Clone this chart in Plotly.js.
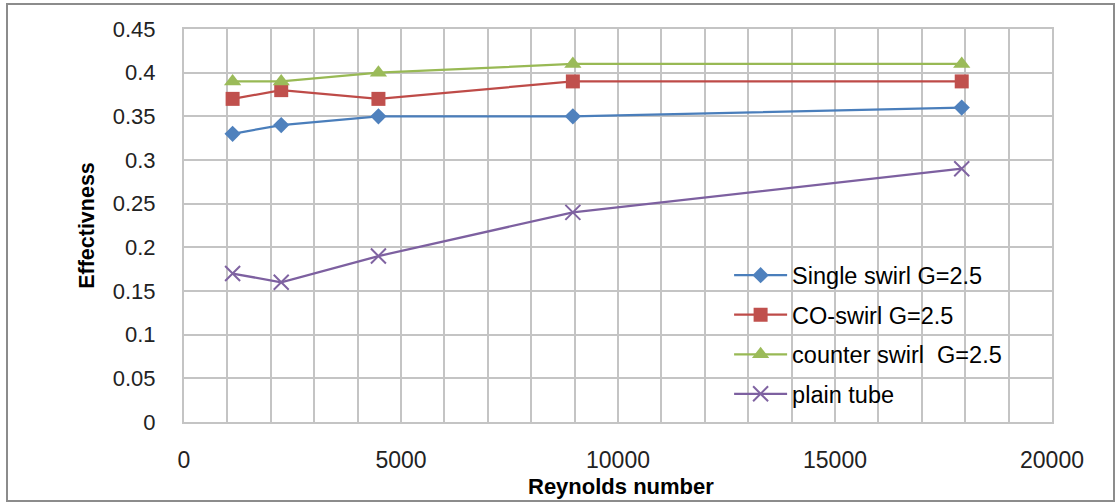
<!DOCTYPE html>
<html>
<head>
<meta charset="utf-8">
<script src="https://cdn.plot.ly/plotly-3.0.1.min.js"></script>
<style>
  html, body { margin: 0; padding: 0; background: #fff; }
  #chart { width: 1116px; height: 503px; }
</style>
</head>
<body>
<div id="chart"></div>
<script>
// Data
var reynolds = [1120, 2240, 4480, 8960, 17920];
var singleSwirl = [0.33, 0.34, 0.35, 0.35, 0.36];
var coSwirl = [0.37, 0.38, 0.37, 0.39, 0.39];
var counterSwirl = [0.39, 0.39, 0.40, 0.41, 0.41];
var plainTube = [0.17, 0.16, 0.19, 0.24, 0.29];
var seriesNames = ['Single swirl G=2.5', 'CO-swirl G=2.5', 'counter swirl  G=2.5', 'plain tube'];
var xTicks = [0, 5000, 10000, 15000, 20000];
var yTicks = [0, 0.05, 0.1, 0.15, 0.2, 0.25, 0.3, 0.35, 0.4, 0.45];
var xTitle = 'Reynolds number';
var yTitle = 'Effectivness';

var FONT = 'Liberation Sans, Arial, sans-serif';
var GRID = '#C4C4C4';

function mk(name, y, lineColor, markerColor, symbol, size, group) {
  var m = {symbol: symbol, size: size, color: markerColor};
  if (symbol === 'x-thin-open') m.line = {color: markerColor, width: 2};
  return {
    x: reynolds, y: y, name: name, type: 'scatter', mode: 'lines+markers',
    line: {color: lineColor, width: 2.25},
    marker: m, legendgroup: group
  };
}

var data = [
  mk(seriesNames[0], singleSwirl, '#4A7EBB', '#4F81BD', 'diamond', 12.5, 'a'),
  mk(seriesNames[1], coSwirl, '#BE4B48', '#C0504D', 'square', 14, 'b'),
  mk(seriesNames[2], counterSwirl, '#98B954', '#9BBB59', 'triangle-up', 15, 'c'),
  mk(seriesNames[3], plainTube, '#7D60A0', '#8064A2', 'x-thin-open', 15, 'd')
];

var layout = {
  width: 1116, height: 503,
  margin: {l: 184, r: 64, t: 29, b: 81, pad: 0},
  paper_bgcolor: '#ffffff', plot_bgcolor: '#ffffff',
  font: {family: FONT, color: '#000000'},
  showlegend: true,
  legend: {
    x: 0.628, xanchor: 'left', y: 0.429, yanchor: 'top',
    bgcolor: 'rgba(0,0,0,0)', borderwidth: 0,
    font: {family: FONT, size: 23.5, color: '#000'},
    itemwidth: 53, traceorder: 'grouped', tracegroupgap: 6
  },
  xaxis: {
    range: [0, 20000], tickvals: xTicks, tickformat: 'd',
    showgrid: true, gridcolor: GRID, gridwidth: 2,
    minor: {dtick: 1000, showgrid: true, gridcolor: GRID, gridwidth: 2},
    showline: true, linecolor: GRID, linewidth: 2, mirror: true,
    zeroline: false, ticks: '', ticklabelstandoff: 16,
    tickfont: {family: FONT, size: 23, color: '#222'}
  },
  yaxis: {
    range: [0, 0.45], tickvals: yTicks,
    showgrid: true, gridcolor: GRID, gridwidth: 2,
    showline: true, linecolor: GRID, linewidth: 2, mirror: true,
    zeroline: false, ticks: '', ticklabelstandoff: 22,
    tickfont: {family: FONT, size: 22, color: '#222'},
    title: {text: yTitle, font: {family: FONT, size: 21.5, color: '#000', weight: 'bold'}, standoff: 12}
  },
  annotations: [{
    text: xTitle, xref: 'paper', yref: 'paper',
    x: (621 - 184) / 868, y: -(486 - 422) / 393, xanchor: 'center', yanchor: 'middle',
    showarrow: false, font: {family: FONT, size: 22, color: '#000', weight: 'bold'}
  }],
  shapes: [{
    type: 'rect', xref: 'paper', yref: 'paper',
    x0: (7 - 184) / 868, x1: (1114 - 184) / 868,
    y0: -(501 - 422) / 393, y1: 1 + (29 - 4) / 393,
    line: {color: '#8C8C8C', width: 2}, fillcolor: 'rgba(0,0,0,0)', layer: 'below'
  }]
};

Plotly.newPlot('chart', data, layout, {displayModeBar: false, staticPlot: true});
</script>
</body>
</html>
